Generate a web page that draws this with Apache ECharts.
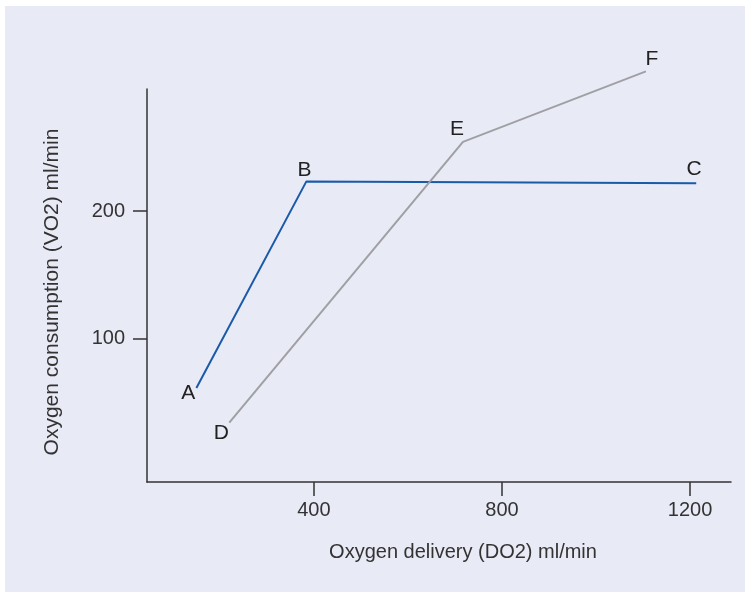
<!DOCTYPE html>
<html>
<head>
<meta charset="utf-8">
<script src="https://cdn.jsdelivr.net/npm/echarts@6/dist/echarts.min.js"></script>
<style>
  html, body { margin: 0; padding: 0; background: #ffffff; }
  #chart { width: 751px; height: 597px; }
</style>
</head>
<body>
<div id="chart"></div>
<script>
// values
var xTicks = [400, 800, 1200];
var yTicks = [100, 200];

var blueNames = ['A', 'B', 'C'];
var blueX = [150, 384, 1213];
var blueY = [61.5, 223.4, 222];

var grayNames = ['D', 'E', 'F'];
var grayX = [220, 717, 1106];
var grayY = [34.4, 254.4, 309.6];

// where each letter sits relative to its point
var labelOffsets = {
  A: [-8, 5], B: [-2, -11], C: [-2, -14],
  D: [-8, 11], E: [-6, -13], F: [6, -12]
};

var font = 'Liberation Sans, Arial, sans-serif';

function buildData(names, xs, ys) {
  return names.map(function (n, i) {
    return {
      name: n,
      value: [xs[i], ys[i]],
      label: { offset: labelOffsets[n] }
    };
  });
}

function lineSeries(names, xs, ys, color) {
  return {
    type: 'line',
    data: buildData(names, xs, ys),
    symbol: 'circle',
    symbolSize: 0.1,
    showSymbol: true,
    clip: false,
    animation: false,
    itemStyle: { color: color },
    lineStyle: { color: color, width: 2 },
    label: {
      show: true,
      position: 'inside',
      formatter: function (p) { return p.name; },
      color: '#222',
      fontFamily: font,
      fontSize: 21,
      align: 'center',
      verticalAlign: 'middle'
    }
  };
}

var chart = echarts.init(document.getElementById('chart'));
chart.setOption({
  backgroundColor: '#ffffff',
  graphic: [{
    type: 'rect',
    z: -10,
    shape: { x: 5, y: 6, width: 740, height: 586 },
    style: { fill: '#e8eaf6' }
  }],
  grid: { left: 147, right: 20, top: 89, bottom: 115 },
  xAxis: {
    type: 'value',
    min: 45,
    max: 1287,
    splitLine: { show: false },
    axisLine: { onZero: false, lineStyle: { color: '#333', width: 1.5 } },
    axisTick: { show: true, customValues: xTicks, length: 14, lineStyle: { color: '#333', width: 1.5 } },
    axisLabel: {
      customValues: xTicks, margin: 18, color: '#333', fontFamily: font, fontSize: 20,
      formatter: function (v) { return String(v); }
    },
    name: 'Oxygen delivery (DO2) ml/min',
    nameLocation: 'middle',
    nameGap: 60,
    nameTextStyle: { color: '#333', fontFamily: font, fontSize: 20, padding: [0, 0, 0, 48] }
  },
  yAxis: {
    type: 'value',
    min: -12.2,
    max: 295.8,
    splitLine: { show: false },
    axisLine: { show: true, onZero: false, lineStyle: { color: '#333', width: 1.5 } },
    axisTick: { show: true, customValues: yTicks, length: 14, lineStyle: { color: '#333', width: 1.5 } },
    axisLabel: {
      customValues: yTicks, margin: 22, color: '#333', fontFamily: font, fontSize: 20,
      formatter: function (v) { return String(v); }
    },
    name: 'Oxygen consumption (VO2) ml/min',
    nameLocation: 'middle',
    nameGap: 84,
    nameTextStyle: { color: '#333', fontFamily: font, fontSize: 21, padding: [0, 13, 0, 0] }
  },
  series: [
    lineSeries(blueNames, blueX, blueY, '#1a5aa8'),
    lineSeries(grayNames, grayX, grayY, '#a0a0a4')
  ]
});
</script>
</body>
</html>
